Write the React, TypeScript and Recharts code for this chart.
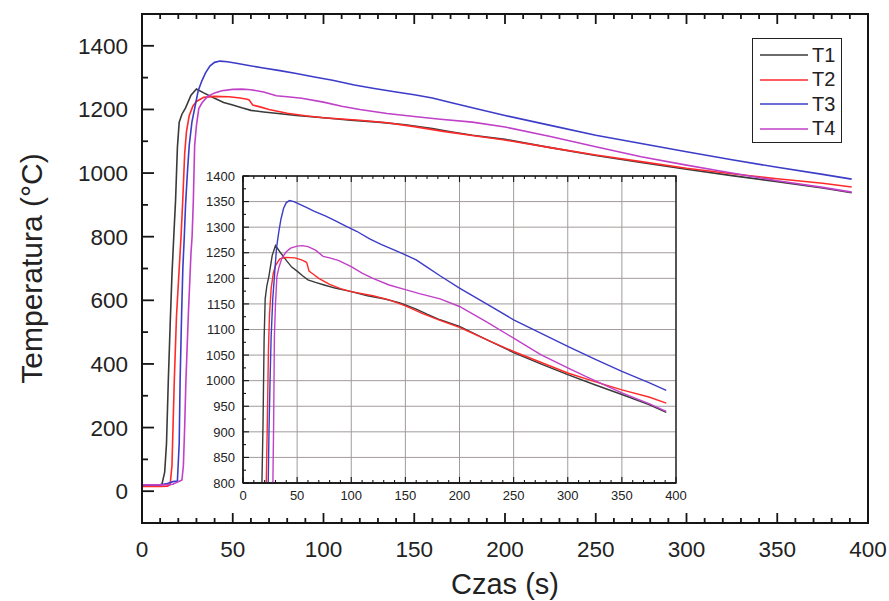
import { LineChart, Line, XAxis, YAxis, CartesianGrid, Legend, ReferenceArea } from "recharts"

// time (s) and temperature (°C), one pair of arrays per thermocouple
const t1Time = [0, 8, 11, 12.5, 13.5, 14.5, 15.5, 16.5, 17.5, 18.5, 19.5, 20.5, 22, 24, 27, 30, 34, 40, 45, 50, 55, 60, 67, 75, 85, 100, 115, 130, 145, 150, 160, 170, 182, 200, 225, 250, 275, 300, 325, 350, 375, 391]
const t1Temp = [18, 18, 22, 60, 150, 349, 520, 680, 800, 915, 1080, 1160, 1185, 1205, 1245, 1264, 1252, 1235, 1222, 1214, 1205, 1197, 1192, 1187, 1181, 1174, 1166, 1160, 1152, 1148, 1140, 1130, 1119, 1106, 1080, 1055, 1033, 1012, 992, 973, 953, 938]

const t2Time = [0, 10, 14, 15.5, 16.5, 17.8, 19, 20.5, 21.5, 22.5, 23.5, 24.5, 26, 28, 30, 34, 40, 48, 54, 58, 59, 61, 65, 70, 80, 90, 100, 120, 135, 150, 166, 182, 200, 225, 250, 275, 300, 325, 350, 375, 391]
const t2Temp = [15, 15, 16, 20, 80, 349, 550, 700, 800, 920, 1060, 1130, 1180, 1210, 1225, 1238, 1241, 1240, 1236, 1232, 1230, 1214, 1208, 1200, 1188, 1180, 1174, 1166, 1158, 1146, 1131, 1118, 1104, 1080, 1057, 1036, 1015, 998, 982, 968, 956]

const t3Time = [0, 10, 14, 17, 19.5, 20.5, 21, 21.8, 22.5, 23.3, 24, 25, 26, 27.5, 29.5, 31, 33, 35, 37.5, 40, 43, 47, 52, 58, 66, 76, 85, 95, 105, 117, 128, 140, 150, 160, 170, 182, 200, 225, 250, 275, 300, 325, 350, 375, 391]
const t3Temp = [20, 20, 24, 30, 32, 150, 349, 550, 700, 800, 900, 1000, 1086, 1160, 1217, 1260, 1290, 1315, 1337, 1348, 1352, 1350, 1345, 1339, 1331, 1322, 1313, 1302, 1292, 1277, 1266, 1255, 1246, 1236, 1222, 1205, 1181, 1150, 1119, 1093, 1067, 1042, 1018, 996, 981]

const t4Time = [0, 12, 17, 20, 22, 22.8, 23.5, 24.2, 25.5, 27, 27.6, 28.3, 29, 30, 31.3, 33, 36, 40, 44, 50, 55, 60, 67, 74, 80, 88, 100, 110, 120, 135, 150, 163, 182, 200, 225, 250, 275, 300, 317, 350, 375, 391]
const t4Temp = [20, 20, 22, 30, 35, 80, 200, 349, 550, 750, 800, 915, 1086, 1150, 1203, 1220, 1240, 1252, 1259, 1263, 1264, 1262, 1255, 1243, 1240, 1235, 1223, 1210, 1200, 1187, 1178, 1170, 1160, 1145, 1115, 1083, 1051, 1025, 1008, 976, 955, 940]

const seriesNames = ["T1", "T2", "T3", "T4"]
const seriesColors = ["#3a3a3a", "#ff2a2a", "#3c3cc8", "#c040c8"]

const mainXTicks = Array.from({ length: 41 }, (_, i) => i * 10)
const mainYTicks = Array.from({ length: 15 }, (_, i) => i * 100)
const insetXGrid = [0, 50, 100, 150, 200, 250, 300, 350, 400]
const insetYGrid = [800, 850, 900, 950, 1000, 1050, 1100, 1150, 1200, 1250, 1300, 1350, 1400]
const insetYTicks = Array.from({ length: 25 }, (_, i) => 800 + i * 25)

const toRows = (time: number[], temp: number[]) => time.map((t, i) => ({ t, v: temp[i] }))
const series = [
  toRows(t1Time, t1Temp),
  toRows(t2Time, t2Temp),
  toRows(t3Time, t3Temp),
  toRows(t4Time, t4Temp),
]

const FONT = "'Liberation Sans', Arial, sans-serif"
const INK = "#151515"

// top edge of each plot (svg px); the top ticks are drawn from it, pointing down
const MAIN_TOP = 14
const INSET_TOP = 10

// x ticks: inward on the bottom axis and mirrored on the top edge
const MainXTick = ({ x, y, payload }: any) => {
  const major = payload.value % 50 === 0
  const len = major ? 10 : 5
  return (
    <g>
      <line x1={x} y1={y} x2={x} y2={y - len} stroke={INK} strokeWidth={1.8} />
      <line x1={x} y1={MAIN_TOP} x2={x} y2={MAIN_TOP + len} stroke={INK} strokeWidth={1.8} />
      {major && (
        <text x={x} y={y + 34} textAnchor="middle" fontSize={22.5} fontFamily={FONT} fill="#222">
          {payload.value}
        </text>
      )}
    </g>
  )
}

const MainYTick = ({ x, y, payload }: any) => {
  const major = payload.value % 200 === 0
  return (
    <g>
      <line x1={x} y1={y} x2={x + (major ? 12 : 6)} y2={y} stroke={INK} strokeWidth={1.8} />
      {major && (
        <text x={x - 14} y={y + 8} textAnchor="end" fontSize={22.5} fontFamily={FONT} fill="#222">
          {payload.value}
        </text>
      )}
    </g>
  )
}

const InsetXTick = ({ x, y, payload }: any) => {
  const major = payload.value % 50 === 0
  const len = major ? 6 : 3
  return (
    <g>
      <line x1={x} y1={y} x2={x} y2={y - len} stroke={INK} strokeWidth={1.1} />
      <line x1={x} y1={INSET_TOP} x2={x} y2={INSET_TOP + len} stroke={INK} strokeWidth={1.1} />
      {major && (
        <text x={x} y={y + 17} textAnchor="middle" fontSize={13} fontFamily={FONT} fill="#222">
          {payload.value}
        </text>
      )}
    </g>
  )
}

const InsetYTick = ({ x, y, payload }: any) => {
  const major = payload.value % 50 === 0
  return (
    <g>
      <line x1={x} y1={y} x2={x + (major ? 6 : 3)} y2={y} stroke={INK} strokeWidth={1.1} />
      {major && (
        <text x={x - 8} y={y + 4.7} textAnchor="end" fontSize={13} fontFamily={FONT} fill="#222">
          {payload.value}
        </text>
      )}
    </g>
  )
}

const renderLegend = ({ payload }: any) => (
  <div style={{ border: "1px solid #222", background: "#fff", width: 88, padding: "4px 0 1px 0", fontFamily: FONT }}>
    {(payload || []).map((entry: any) => (
      <div key={entry.value} style={{ display: "flex", alignItems: "center", height: 24.5 }}>
        <svg width={56} height={10}>
          <line x1={7} y1={5} x2={55} y2={5} stroke={entry.color} strokeWidth={1.5} />
        </svg>
        <span style={{ fontSize: 20, marginLeft: 3, color: "#222" }}>{entry.value}</span>
      </div>
    ))}
  </div>
)

export default function App() {
  return (
    <div style={{ position: "absolute", left: 0, top: 0, width: 889, height: 601, background: "#fff" }}>
      <LineChart width={889} height={601} margin={{ top: 14, right: 21, bottom: 0, left: 0 }}>
        <XAxis
          dataKey="t"
          type="number"
          domain={[0, 400]}
          ticks={mainXTicks}
          interval={0}
          allowDataOverflow
          height={78}
          tickSize={0}
          tickMargin={0}
          tickLine={false}
          tick={MainXTick}
          axisLine={{ stroke: INK, strokeWidth: 2 }}
          label={{ value: "Czas (s)", position: "insideBottom", offset: 7, fontSize: 29, fontFamily: FONT, fill: "#222" }}
        />
        <YAxis
          type="number"
          domain={[-100, 1500]}
          ticks={mainYTicks}
          interval={0}
          allowDataOverflow
          width={142}
          tickSize={0}
          tickMargin={0}
          tickLine={false}
          tick={MainYTick}
          axisLine={{ stroke: INK, strokeWidth: 2 }}
          label={{
            value: "Temperatura (°C)",
            angle: -90,
            position: "insideLeft",
            offset: 31,
            fontSize: 30,
            fontFamily: FONT,
            fill: "#222",
            style: { textAnchor: "middle" },
          }}
        />
        <ReferenceArea x1={0} x2={400} y1={-100} y2={1500} fill="none" stroke={INK} strokeWidth={2} ifOverflow="visible" />
        <Legend
          layout="vertical"
          align="center"
          verticalAlign="middle"
          content={renderLegend}
          wrapperStyle={{ left: 752, top: 38, width: 90 }}
        />
        {series.map((rows, i) => (
          <Line
            key={seriesNames[i]}
            data={rows}
            dataKey="v"
            name={seriesNames[i]}
            stroke={seriesColors[i]}
            strokeWidth={1.6}
            dot={false}
            type="linear"
            isAnimationActive={false}
          />
        ))}
      </LineChart>

      <div style={{ position: "absolute", left: 190, top: 166 }}>
        <LineChart width={500} height={344} margin={{ top: 10, right: 14, bottom: 0, left: 0 }}>
          <CartesianGrid
            fill="#fff"
            stroke="#a39b9b"
            strokeWidth={1}
            verticalValues={insetXGrid}
            horizontalValues={insetYGrid}
          />
          <XAxis
            dataKey="t"
            type="number"
            domain={[0, 400]}
            ticks={mainXTicks}
            interval={0}
            allowDataOverflow
            height={27}
            tickSize={0}
            tickMargin={0}
            tickLine={false}
            tick={InsetXTick}
            axisLine={{ stroke: INK, strokeWidth: 1.3 }}
          />
          <YAxis
            type="number"
            domain={[800, 1400]}
            ticks={insetYTicks}
            interval={0}
            allowDataOverflow
            width={53}
            tickSize={0}
            tickMargin={0}
            tickLine={false}
            tick={InsetYTick}
            axisLine={{ stroke: INK, strokeWidth: 1.3 }}
          />
          {series.map((rows, i) => (
            <Line
              key={seriesNames[i]}
              data={rows}
              dataKey="v"
              name={seriesNames[i]}
              stroke={seriesColors[i]}
              strokeWidth={1.4}
              dot={false}
              type="linear"
              isAnimationActive={false}
            />
          ))}
          <ReferenceArea x1={0} x2={400} y1={800} y2={1400} fill="none" stroke={INK} strokeWidth={1.3} ifOverflow="visible" />
        </LineChart>
      </div>
    </div>
  )
}
